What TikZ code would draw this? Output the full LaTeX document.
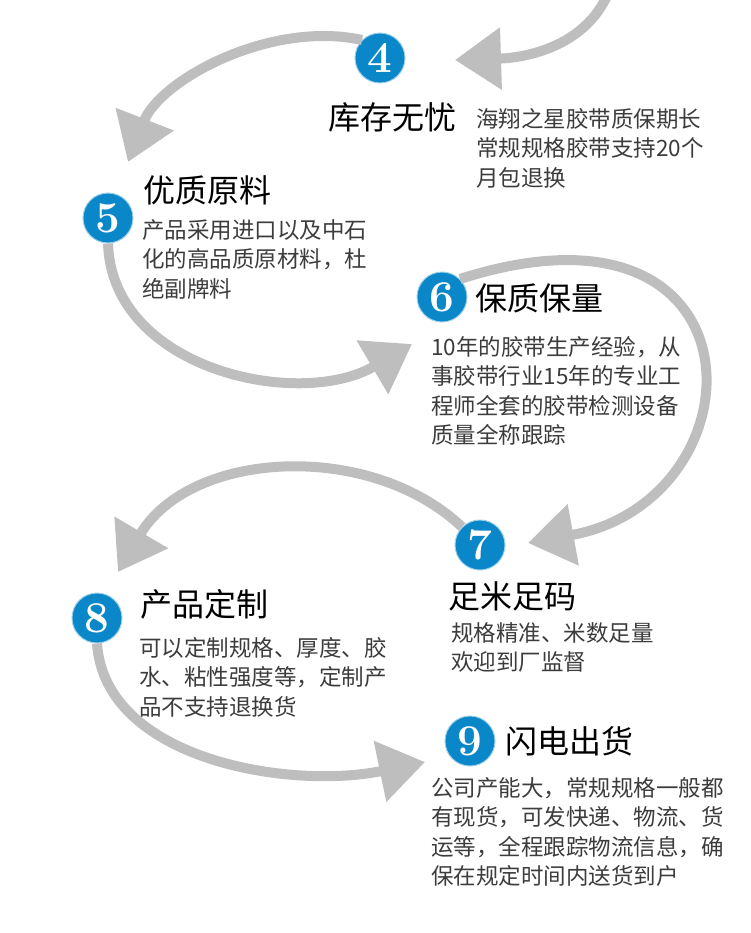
\documentclass[tikz,border=0pt]{standalone}
\usepackage{fontspec}
\newfontfamily\cjk{Noto Sans CJK SC}
\usetikzlibrary{positioning,arrows.meta}
\definecolor{numblue}{RGB}{10,135,200}
\definecolor{arcgray}{RGB}{190,190,190}
\definecolor{bodygray}{RGB}{60,60,60}

\begin{document}
\begin{tikzpicture}[x=1pt,y=-1pt]
	% Define styles
	\tikzset{numdot/.style={circle, fill=numblue, draw=numblue!40, line width=1pt, minimum size=50pt, inner sep=0pt,
		text=white, font=\fontsize{44}{44}\selectfont\bfseries},
		title/.style={font=\cjk\fontsize{32}{32}\selectfont, text=black, inner sep=0pt},
		body/.style={font=\cjk\fontsize{22.5}{29.5}\selectfont, text=bodygray, align=left, inner sep=0pt, anchor=north west},
		arc/.style={arcgray, line width=10pt, -{Triangle[length=46pt,width=60pt]}}}
	\useasboundingbox (0,0) rectangle (750,933);
	
	% Place nodes
	\node [numdot] (n4) at (380,58) {4};
	\node [numdot] (n5) at (108,218) {5};
	\node [numdot] (n6) at (442,297) {6};
	\node [numdot] (n7) at (480,545) {7};
	\node [numdot] (n8) at (97,618) {8};
	\node [numdot] (n9) at (470,741) {9};
	
	\node [title, anchor=west] (t4) at (328,117) {库存无忧};
	\node [body] (b4) at (476,108) {海翔之星胶带质保期长\\常规规格胶带支持20个\\月包退换};
	\node [title, anchor=west] (t5) at (143,190) {优质原料};
	\node [body] (b5) at (142,219) {产品采用进口以及中石\\化的高品质原材料，杜\\绝副牌料};
	\node [title, anchor=west] (t6) at (475,298) {保质保量};
	\node [body] (b6) at (431,336) {10年的胶带生产经验，从\\事胶带行业15年的专业工\\程师全套的胶带检测设备\\质量全称跟踪};
	\node [title, anchor=west] (t7) at (448,596) {足米足码};
	\node [body] (b7) at (451,622) {规格精准、米数足量\\欢迎到厂监督};
	\node [title, anchor=west] (t8) at (140,604) {产品定制};
	\node [body] (b8) at (139,637) {可以定制规格、厚度、胶\\水、粘性强度等，定制产\\品不支持退换货};
	\node [title, anchor=west] (t9) at (505,741) {闪电出货};
	\node [body] (b9) at (431,777) {公司产能大，常规规格一般都\\有现货，可发快递、物流、货\\运等，全程跟踪物流信息，确\\保在规定时间内送货到户};
	
	% Draw arrows
	\coordinate (top) at (606,-2);
	\draw [arc] (top) .. controls (580,50) and (520,58) .. (455,60);
	\draw [arc] (n4.north west) .. controls (270,20) and (160,80) .. (128,162);
	\draw [arc] (n5.south) .. controls (112,370) and (300,410) .. (412,344);
	\draw [arc] (n6.north east) .. controls (770,180) and (765,500) .. (528,543);
	\draw [arc] (n7.north west) .. controls (370,440) and (190,450) .. (118,572);
	\draw [arc] (n8.south) .. controls (105,760) and (290,790) .. (425,762);
\end{tikzpicture}
\end{document}
